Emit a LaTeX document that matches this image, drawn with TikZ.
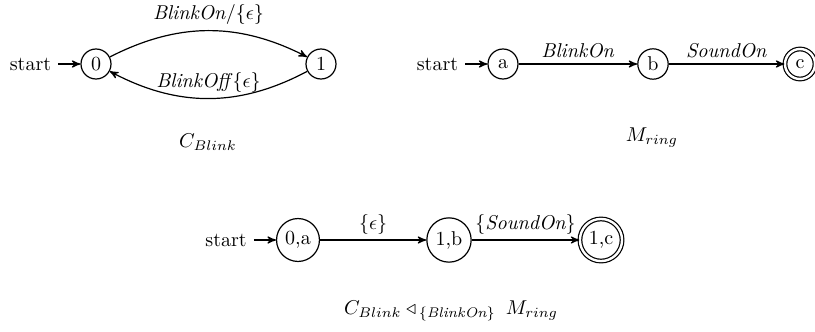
\documentclass[tikz,border=0pt]{standalone}
\usepackage{amsmath}
\usetikzlibrary{arrows,positioning}

\begin{document}
\begin{tikzpicture}[x=0.5pt,y=0.5pt,semithick,>=stealth',
    st/.style={circle,draw,minimum size=15pt,inner sep=2.2pt},
    acc/.style={st,double,double distance=1.2pt},
    lbl/.style={above,inner sep=2.6pt}]
    \useasboundingbox (0,0) rectangle (815,-332);

    % C_Blink: two states, blinking back and forth
    \node[st] (q0) at (96,-64) {0};
    \node[st] (q1) at (321,-64) {1};
    \node[left=11pt of q0] (s0) {start};
    \draw[->] (s0) -- (q0);
    \draw[->] (q0) to[bend left=27] node[lbl] {\textit{BlinkOn}/$\{\epsilon\}$} (q1);
    \draw[->] (q1) to[bend left=28] node[lbl] {\textit{BlinkOff}$\{\epsilon\}$} (q0);
    \node (capb) at (208,-142) {$C_{Blink}$};

    % M_ring: a -> b -> c
    \node[st] (ma) at (503,-64) {a};
    \node[st] (mb) at (653,-64) {b};
    \node[acc] (mc) at (800,-64) {c};
    \node[left=11pt of ma] (s1) {start};
    \draw[->] (s1) -- (ma);
    \draw[->] (ma) -- node[lbl] {\textit{BlinkOn}} (mb);
    \draw[->] (mb) -- node[lbl] {\textit{SoundOn}} (mc);
    \node (capm) at (652,-138) {$M_{ring}$};

    % the product of both
    \node[st] (p0) at (298,-240) {0,a};
    \node[st] (p1) at (449,-240) {1,b};
    \node[acc] (p2) at (601,-240) {1,c};
    \node[left=11pt of p0] (s2) {start};
    \draw[->] (s2) -- (p0);
    \draw[->] (p0) -- node[lbl] {$\{\epsilon\}$} (p1);
    \draw[->] (p1) -- node[lbl] {$\{\textit{SoundOn}\}$} (p2);
    \node (capp) at (451,-311) {$C_{Blink}\triangleleft_{\,\{\textit{BlinkOn}\}}\;M_{ring}$};
\end{tikzpicture}
\end{document}
